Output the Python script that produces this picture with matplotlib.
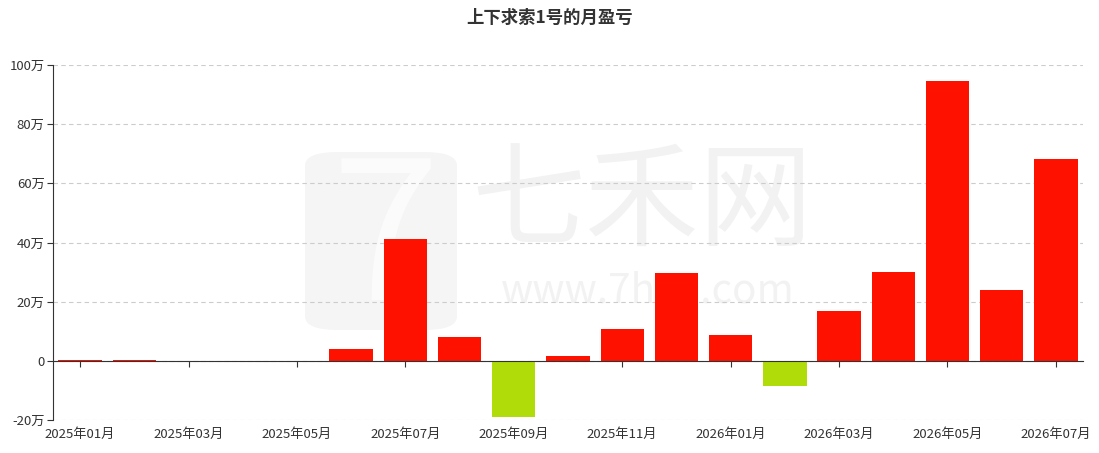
import matplotlib.pyplot as plt
from matplotlib.patches import FancyBboxPatch

plt.rcParams['font.family'] = ['Noto Sans CJK SC', 'DejaVu Sans']

months = ['2025年01月', '2025年02月', '2025年03月', '2025年04月', '2025年05月',
          '2025年06月', '2025年07月', '2025年08月', '2025年09月', '2025年10月',
          '2025年11月', '2025年12月', '2026年01月', '2026年02月', '2026年03月',
          '2026年04月', '2026年05月', '2026年06月', '2026年07月']
# monthly profit/loss, unit: 万
pnl = [0.4, 0.2, 0, 0, 0, 4.1, 41.2, 7.9, -18.9, 1.7, 10.6, 29.7,
       8.8, -8.4, 17.0, 30.1, 94.6, 24.0, 68.2]
yticks = [-20, 0, 20, 40, 60, 80, 100]

fig = plt.figure(figsize=(10.99, 4.53), dpi=100)
ax = fig.add_axes([53 / 1099, 33 / 453, 1030 / 1099, 355 / 453])

# faint watermark behind everything
logo = FancyBboxPatch((305 / 1099, 1 - 330 / 453), 152 / 1099, 178 / 453,
                      boxstyle="round,pad=0,rounding_size=0.03",
                      transform=fig.transFigure, facecolor='#f5f5f5',
                      edgecolor='none', zorder=0.1, clip_on=False)
ax.add_patch(logo)
ax.text(385 / 1099, 1 - 245 / 453, '7', transform=fig.transFigure, fontsize=140,
        color='#fbfbfb', ha='center', va='center', style='italic',
        zorder=0.2, clip_on=False)
ax.text(642 / 1099, 1 - 205 / 453, '七禾网', transform=fig.transFigure, fontsize=82,
        color='#f2f2f2', ha='center', va='center', zorder=0.2)
ax.text(648 / 1099, 1 - 291 / 453, 'www.7hcn.com', transform=fig.transFigure,
        fontsize=29, color='#f2f2f2', ha='center', va='center', zorder=0.2)

colors = ['#ff1100' if v >= 0 else '#b0dd0a' for v in pnl]
x = list(range(len(months)))
ax.bar(x, pnl, width=0.8, color=colors, zorder=2)

ax.set_xlim(-0.5, len(months) - 0.5)
ax.set_ylim(-20, 100)
ax.set_yticks(yticks)
ax.set_yticklabels([f'{v}万' if v != 0 else '0' for v in yticks])
ax.grid(axis='y', color='#cccccc', linestyle=(0, (4, 3)), linewidth=0.8, zorder=0.5)
ax.set_axisbelow(True)

for s in ['top', 'right']:
    ax.spines[s].set_visible(False)
ax.spines['bottom'].set_position(('data', 0))
ax.spines['bottom'].set_color('#333333')
ax.spines['left'].set_color('#333333')
ax.spines['left'].set_zorder(3)
ax.spines['bottom'].set_zorder(3)

ax.set_xticks(x[::2])
ax.set_xticklabels([])
ax.tick_params(axis='x', length=4, color='#333333')
ax.tick_params(axis='y', length=4, color='#333333', labelsize=9.5, labelcolor='#333333', pad=2)

for i in x[::2]:
    ax.annotate(months[i], (i, -20), xytext=(0, -6), textcoords='offset points',
                ha='center', va='top', fontsize=9.5, color='#333333')

fig.text(0.5, 1 - 18 / 453, '上下求索1号的月盈亏', ha='center', va='center',
         fontsize=12.5, fontweight='bold', color='#333333')

fig.savefig('out.png', dpi=100)
